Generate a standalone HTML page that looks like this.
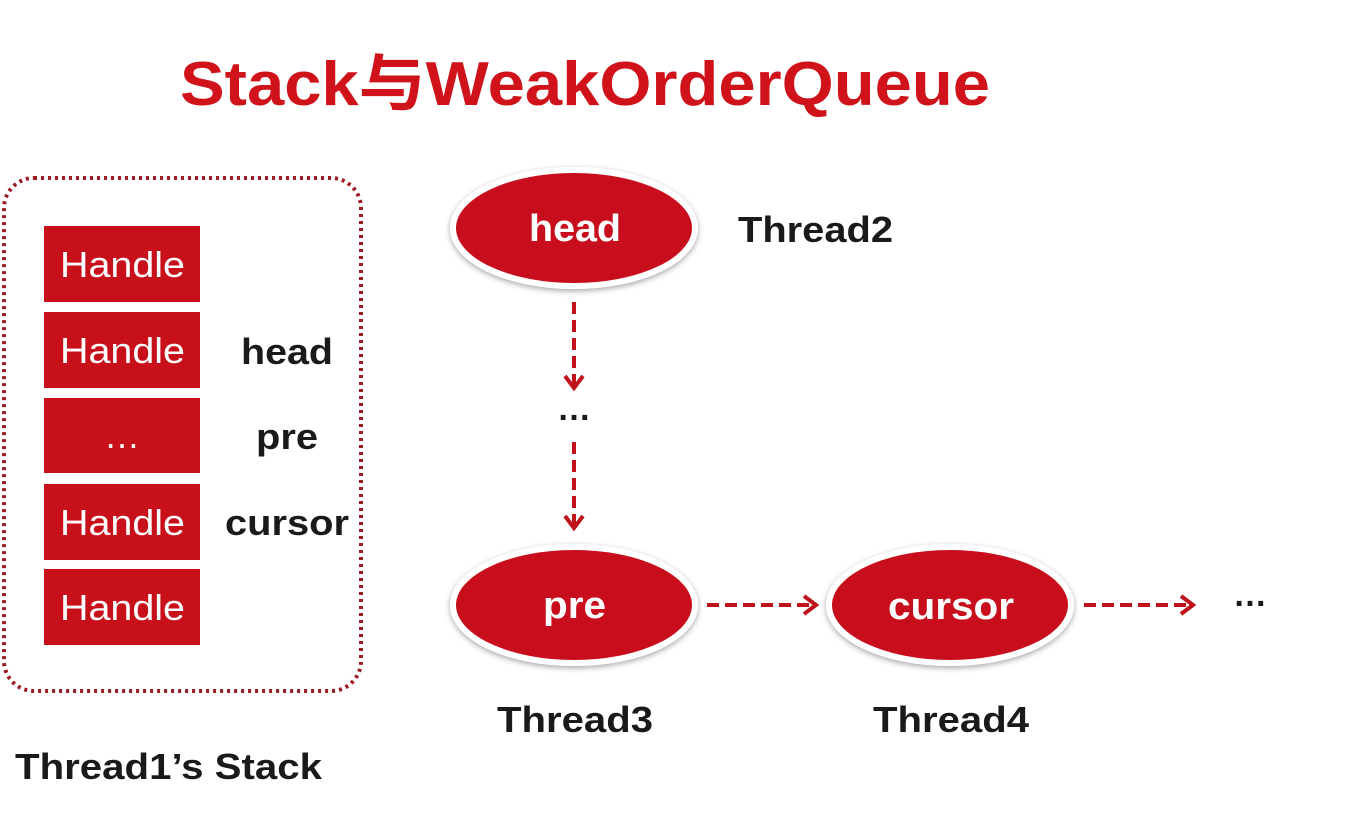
<!DOCTYPE html>
<html><head><meta charset="utf-8"><style>
html,body{margin:0;padding:0;background:#fff;width:1347px;height:814px;overflow:hidden}
svg text{font-family:"Liberation Sans","Noto Sans CJK SC",sans-serif}
</style></head><body>
<svg width="1347" height="814" viewBox="0 0 1347 814" xmlns="http://www.w3.org/2000/svg">
<defs>
<filter id="sh" x="-20%" y="-30%" width="140%" height="160%"><feDropShadow dx="0" dy="2" stdDeviation="3" flood-color="#000" flood-opacity="0.35"/></filter>
<marker id="ah" markerWidth="24" markerHeight="24" refX="18" refY="12" orient="auto" markerUnits="userSpaceOnUse"><path d="M6,3 L18,12 L6,21" fill="none" stroke="#c0121a" stroke-width="4"/></marker>
</defs>
<text x="180" y="105" textLength="810" lengthAdjust="spacingAndGlyphs" font-size="62" font-weight="bold" fill="#d0121b">Stack与WeakOrderQueue</text>
<rect x="4" y="178" width="357" height="513" rx="30" fill="none" stroke="#9b1c22" stroke-width="4" stroke-dasharray="3,4"/>
<g fill="#c8101a">
<rect x="44" y="226" width="156" height="76"/>
<rect x="44" y="312" width="156" height="76"/>
<rect x="44" y="398" width="156" height="75"/>
<rect x="44" y="484" width="156" height="76"/>
<rect x="44" y="569" width="156" height="76"/>
</g>
<g fill="#fff" font-size="36">
<text x="60" y="277" textLength="125" lengthAdjust="spacingAndGlyphs">Handle</text>
<text x="60" y="363" textLength="125" lengthAdjust="spacingAndGlyphs">Handle</text>
<text x="122" y="448" text-anchor="middle">…</text>
<text x="60" y="535" textLength="125" lengthAdjust="spacingAndGlyphs">Handle</text>
<text x="60" y="620" textLength="125" lengthAdjust="spacingAndGlyphs">Handle</text>
</g>
<g fill="#1a1a1a" font-size="36" font-weight="bold">
<text x="241" y="364" textLength="92" lengthAdjust="spacingAndGlyphs">head</text>
<text x="256" y="449" textLength="62" lengthAdjust="spacingAndGlyphs">pre</text>
<text x="225" y="535" textLength="124" lengthAdjust="spacingAndGlyphs">cursor</text>
<text x="497" y="732" textLength="156" lengthAdjust="spacingAndGlyphs">Thread3</text>
<text x="873" y="732" textLength="156" lengthAdjust="spacingAndGlyphs">Thread4</text>
<text x="738" y="242" textLength="155" lengthAdjust="spacingAndGlyphs">Thread2</text>
<text x="15" y="779" textLength="307" lengthAdjust="spacingAndGlyphs">Thread1’s Stack</text>
</g>
<g fill="#c8101a" stroke="#fff" stroke-width="6" filter="url(#sh)">
<ellipse cx="574" cy="228" rx="121" ry="58"/>
<ellipse cx="574" cy="605" rx="121" ry="58"/>
<ellipse cx="950" cy="605" rx="121" ry="58"/>
</g>
<g fill="#fff" font-size="38" font-weight="bold">
<text x="529" y="241" textLength="92" lengthAdjust="spacingAndGlyphs">head</text>
<text x="543" y="618" textLength="63" lengthAdjust="spacingAndGlyphs">pre</text>
<text x="888" y="619" textLength="126" lengthAdjust="spacingAndGlyphs">cursor</text>
</g>
<g stroke="#c0121a" stroke-width="4" stroke-dasharray="12,6" fill="none">
<line x1="574" y1="302" x2="574" y2="388" marker-end="url(#ah)"/>
<line x1="574" y1="442" x2="574" y2="528" marker-end="url(#ah)"/>
<line x1="707" y1="605" x2="816" y2="605" marker-end="url(#ah)"/>
<line x1="1084" y1="605" x2="1193" y2="605" marker-end="url(#ah)"/>
</g>
<text x="574" y="420" text-anchor="middle" font-size="34" font-weight="bold" fill="#1a1a1a">…</text>
<text x="1250" y="606" text-anchor="middle" font-size="34" font-weight="bold" fill="#1a1a1a">…</text>
</svg>
</body></html>
